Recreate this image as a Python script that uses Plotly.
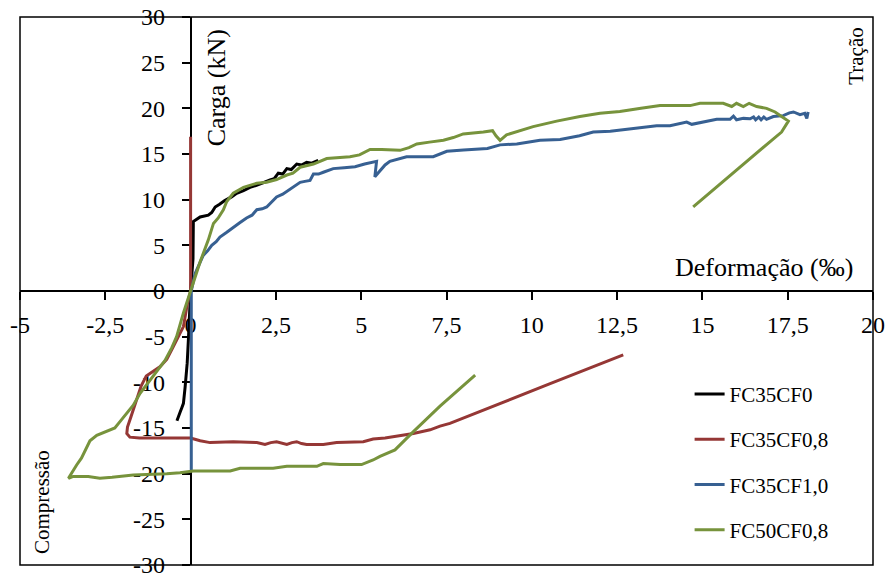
import plotly.graph_objects as go

# Load (kN) versus strain (‰) for the four specimens
fc35cf0_x = [-0.40, -0.36, -0.30, -0.26, -0.21, -0.16, -0.12, -0.10, -0.06, -0.03, 0.0,
             0.07, 0.08, 0.28, 0.52, 0.62, 0.72, 0.85, 1.0, 1.2, 1.35, 1.55, 1.74, 1.95,
             2.13, 2.33, 2.45, 2.57, 2.7, 2.82, 2.95, 3.11, 3.25, 3.4, 3.55, 3.74]
fc35cf0_y = [-14.2, -13.7, -13.2, -12.8, -12.3, -10.5, -9.0, -7.9, -5.0, -2.5, 0.0,
             3.5, 7.6, 8.1, 8.3, 8.6, 9.2, 9.5, 9.9, 10.3, 10.7, 11.0, 11.35, 11.6,
             11.9, 12.15, 12.3, 12.9, 12.8, 13.4, 13.3, 13.9, 13.8, 14.1, 14.0, 14.3]

fc35cf08_x = [0.0, 0.0, -0.1, -0.21, -0.51, -0.7, -0.9, -1.1, -1.3, -1.45, -1.6, -1.75,
              -1.85, -1.87, -1.78, -1.5, -1.19, -0.5, 0.0, 0.28, 0.57, 1.25, 1.94, 2.18,
              2.35, 2.52, 2.68, 2.82, 2.97, 3.11, 3.25, 3.40, 3.89, 4.28, 5.06, 5.35,
              5.7, 6.04, 6.53, 7.02, 7.31, 7.6, 9.07, 10.5, 12.68]
fc35cf08_y = [16.9, 0.0, -1.5, -3.9, -6.1, -7.5, -8.3, -8.8, -9.3, -10.4, -12.2, -13.8,
              -14.9, -15.6, -16.0, -16.1, -16.1, -16.1, -16.1, -16.4, -16.6, -16.5, -16.6, -16.8,
              -16.6, -16.5, -16.7, -16.8, -16.6, -16.5, -16.7, -16.8, -16.8, -16.6, -16.5, -16.2,
              -16.1, -15.9, -15.6, -15.2, -14.8, -14.5, -12.3, -10.2, -7.0]

fc35cf10_x = [0.02, 0.02, 0.13, 0.25, 0.37, 0.5, 0.62, 0.75, 0.86, 1.05, 1.25, 1.45, 1.64,
              1.8, 1.94, 2.1, 2.23, 2.4, 2.52, 2.7, 2.91, 3.05, 3.21, 3.35, 3.5, 3.6, 3.75,
              3.89, 4.18, 4.5, 4.82, 5.1, 5.45, 5.4, 5.55, 5.7, 5.84, 6.1, 6.33, 7.11, 7.3,
              7.51, 8.0, 8.38, 8.7, 9.07, 9.56, 10.24, 10.83, 11.4, 11.8, 12.3, 12.78, 13.2,
              13.66, 14.05, 14.54, 14.69, 14.93, 15.2, 15.42, 15.81, 15.91, 16.0, 16.2, 16.4,
              16.5, 16.56, 16.65, 16.72, 16.8, 16.88, 17.08, 17.37, 17.55, 17.67, 17.86, 18.0,
              18.06, 18.1, 18.08]
fc35cf10_y = [-19.6, 0.0, 1.9, 3.0, 3.9, 4.4, 5.0, 5.4, 5.9, 6.4, 7.0, 7.5, 8.0,
              8.3, 8.9, 9.0, 9.2, 9.8, 10.3, 10.6, 11.1, 11.5, 11.9, 12.0, 12.1, 12.8, 12.8,
              13.0, 13.4, 13.5, 13.6, 13.9, 14.2, 12.5, 13.2, 13.8, 14.2, 14.5, 14.7, 14.7, 15.0,
              15.3, 15.45, 15.5, 15.6, 16.0, 16.1, 16.5, 16.6, 17.0, 17.4, 17.5, 17.7, 17.95,
              18.1, 18.1, 18.5, 18.25, 18.45, 18.6, 18.8, 18.8, 19.15, 18.75, 18.9, 18.85,
              19.05, 18.75, 19.05, 18.75, 19.05, 18.8, 19.1, 19.2, 19.5, 19.6, 19.3, 19.45,
              18.9, 19.6, 19.3]

fc50cf08_x = [8.34, 7.51, 7.31, 6.53, 5.99, 5.55, 5.35, 5.01, 4.38, 3.89, 3.70, 2.82, 2.42,
              1.45, 1.16, 0.08, -0.31, -0.7, -1.68, -2.3, -2.66, -3.0, -3.44, -3.58, -3.5,
              -3.34, -3.2, -3.14, -3.0, -2.95, -2.75, -2.46, -2.22, -2.07, -1.87, -1.68, -1.48,
              -1.3, -1.19, -0.95, -0.75, -0.55, -0.41, -0.21, 0.0,
              0.1, 0.28, 0.52, 0.67, 0.81, 0.96, 1.06, 1.25, 1.55, 1.94, 2.23, 2.52, 2.82,
              3.0, 3.21, 3.6, 3.99, 4.67, 4.95, 5.26, 5.6, 6.14, 6.4, 6.63, 7.0, 7.41, 7.7,
              7.99, 8.58, 8.85, 8.95, 9.07, 9.26, 9.6, 10.04, 10.73, 11.41, 12.0, 12.58, 13.2,
              13.76, 14.64, 14.93, 15.61, 15.86, 16.0, 16.2, 16.37, 16.59, 16.88, 17.13, 17.32,
              17.52, 17.32, 17.03, 14.73]
fc50cf08_y = [-9.2, -11.9, -12.6, -15.4, -17.4, -18.1, -18.5, -19.0, -19.0, -18.9, -19.2, -19.2, -19.4,
              -19.4, -19.7, -19.7, -19.9, -20.0, -20.15, -20.4, -20.5, -20.3, -20.3, -20.5, -20.0,
              -19.05, -18.3, -17.8, -16.8, -16.4, -15.8, -15.4, -15.0, -14.3, -13.4, -12.5, -11.2,
              -10.3, -9.7, -8.5, -7.6, -6.2, -5.0, -2.4, 0.0,
              1.2, 3.2, 5.6, 7.4, 8.0, 8.9, 9.8, 10.7, 11.35, 11.8, 11.9, 12.2, 12.7,
              12.9, 13.55, 13.9, 14.5, 14.7, 14.9, 15.5, 15.5, 15.4, 15.7, 16.1, 16.3, 16.5, 16.8,
              17.2, 17.4, 17.55, 17.0, 16.5, 17.1, 17.5, 18.0, 18.6, 19.1, 19.45, 19.65, 20.0,
              20.3, 20.3, 20.55, 20.55, 20.2, 20.55, 20.2, 20.55, 20.2, 20.0, 19.6, 19.1,
              18.6, 17.4, 16.5, 9.2]

series_names = ["FC35CF0", "FC35CF0,8", "FC35CF1,0", "FC50CF0,8"]
series_colors = ["#000000", "#953735", "#376092", "#77933C"]

x_tick_vals = [-5, -2.5, 0, 2.5, 5, 7.5, 10, 12.5, 15, 17.5, 20]
x_tick_text = ["-5", "-2,5", "0", "2,5", "5", "7,5", "10", "12,5", "15", "17,5", "20"]
y_tick_vals = [-30, -25, -20, -15, -10, -5, 0, 5, 10, 15, 20, 25, 30]
y_tick_text = ["-30", "-25", "-20", "-15", "-10", "-5", "0", "5", "10", "15", "20", "25", "30"]

FONT = "Liberation Serif, Times New Roman, serif"

fig = go.Figure()
for name, color, xs, ys in zip(
        series_names, series_colors,
        [fc35cf0_x, fc35cf08_x, fc35cf10_x, fc50cf08_x],
        [fc35cf0_y, fc35cf08_y, fc35cf10_y, fc50cf08_y]):
    fig.add_trace(go.Scatter(x=xs, y=ys, mode="lines", name=name, legendgroup=name,
                             line=dict(color=color, width=3)))

# axes cross at the origin; curves are drawn over the axis lines
axis_common = dict(showgrid=False, zeroline=False, showline=True, linecolor="black",
                   linewidth=1.5, ticks="outside", ticklen=8, tickwidth=1.5,
                   tickcolor="black", tickfont=dict(family=FONT, size=24, color="black"),
                   anchor="free", automargin=False, ticklabeloverflow="allow",
                   layer="below traces")

fig.update_layout(
    width=886, height=578,
    margin=dict(l=20, r=13, t=17, b=13, pad=0, autoexpand=False),
    paper_bgcolor="white", plot_bgcolor="white",
    font=dict(family=FONT, color="black"),
    xaxis=dict(range=[-5, 20], tickvals=x_tick_vals, ticktext=x_tick_text,
               position=0.5, ticklabelstandoff=4, **axis_common),
    yaxis=dict(range=[-30, 30], tickvals=y_tick_vals, ticktext=y_tick_text,
               position=0.2, ticklabelstandoff=12, **axis_common),
    showlegend=True,
    legend=dict(x=0.785, y=0.349, xanchor="left", yanchor="top",
                bgcolor="rgba(0,0,0,0)", borderwidth=0, tracegroupgap=15,
                font=dict(family=FONT, size=21, color="black")),
    shapes=[dict(type="rect", xref="paper", yref="paper", x0=0, y0=0, x1=1, y1=1,
                 layer="above", line=dict(color="black", width=1.5))],
    annotations=[
        dict(text="Carga (kN)", x=0.2298, y=0.870, xref="paper", yref="paper",
             textangle=-90, showarrow=False, xanchor="center", yanchor="middle",
             font=dict(family=FONT, size=26)),
        dict(text="Deformação (‰)", x=0.872, y=0.542, xref="paper", yref="paper",
             showarrow=False, xanchor="center", yanchor="middle",
             font=dict(family=FONT, size=26)),
        dict(text="Tração", x=0.980, y=0.929, xref="paper", yref="paper",
             textangle=-90, showarrow=False, xanchor="center", yanchor="middle",
             font=dict(family=FONT, size=21)),
        dict(text="Compressão", x=0.0258, y=0.115, xref="paper", yref="paper",
             textangle=-90, showarrow=False, xanchor="center", yanchor="middle",
             font=dict(family=FONT, size=21)),
    ],
)

fig.write_html("out.html")
